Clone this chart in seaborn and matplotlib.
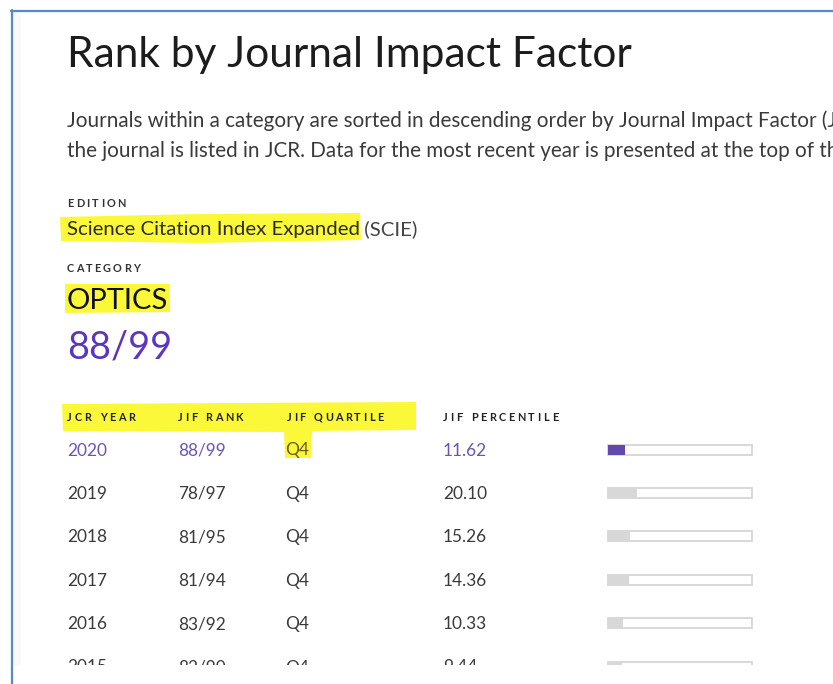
import matplotlib
matplotlib.use("Agg")
import matplotlib.pyplot as plt
from matplotlib.patches import Rectangle, Polygon
from matplotlib.lines import Line2D
import seaborn as sns
import pandas as pd

# ---------------- data ----------------
years = ["2020", "2019", "2018", "2017", "2016", "2015"]
ranks = ["88/99", "78/97", "81/95", "81/94", "83/92", "82/90"]
quartiles = ["Q4", "Q4", "Q4", "Q4", "Q4", "Q4"]
percentiles = [11.62, 20.10, 15.26, 14.36, 10.33, 9.44]
headers = ["JCR YEAR", "JIF RANK", "JIF QUARTILE", "JIF PERCENTILE"]
title = "Rank by Journal Impact Factor"
para = [
    "Journals within a category are sorted in descending order by Journal Impact Factor (J",
    "the journal is listed in JCR. Data for the most recent year is presented at the top of the",
]
edition = "Science Citation Index Expanded"
edition_abbr = " (SCIE)"
category = "OPTICS"
current_rank = "88/99"

sns.set_theme(style="white")
plt.rcParams["font.family"] = ["Lato", "DejaVu Sans"]

W, H = 833, 684
CLIP = 665
fig = plt.figure(figsize=(W / 100, H / 100), dpi=100)
fig.patch.set_facecolor("white")
ax = fig.add_axes([0, (H - CLIP) / H, 1, CLIP / H])
ax.set_xlim(0, W)
ax.set_ylim(CLIP, 0)
ax.axis("off")
renderer = fig.canvas.get_renderer()

PURPLE = "#5a37be"
PURPLE_LIGHT = "#6a55b3"
DARK = "#2b2b2b"
TXT = "#3a3a3a"
YELLOW = "#fbf83a"


def width_of(t):
    return t.get_window_extent(renderer).width


def fit_size(s, width, size=12, **kw):
    probe = ax.text(0, 0, s, fontsize=size, ha="left", va="baseline", **kw)
    w = width_of(probe)
    probe.remove()
    return size * width / w


def put(x, y, s, size=12, fit_to=None, fit_text=None, **kw):
    if fit_to is not None:
        size = fit_size(fit_text or s, fit_to - x, size, **kw)
    t = ax.text(x, y, s, fontsize=size, ha="left", va="baseline", clip_on=True, **kw)
    return t, size


def spaced(x0, x1, y, s, size=8, **kw):
    chars = list(s)
    ws = []
    for c in chars:
        if c == " ":
            ws.append(None)
            continue
        p = ax.text(0, 0, c, fontsize=size, **kw)
        ws.append(width_of(p))
        p.remove()
    real = [w for w in ws if w]
    avg = sum(real) / len(real)
    ws = [w if w is not None else avg * 0.55 for w in ws]
    gap = ((x1 - x0) - sum(ws)) / (len(ws) - 1)
    x = x0
    for c, w in zip(chars, ws):
        if c != " ":
            ax.text(x, y, c, fontsize=size, ha="left", va="baseline", clip_on=True, **kw)
        x += w + gap


# ---------------- page frame ----------------
ax.add_patch(Rectangle((13, 12), 8, CLIP, color="#f8f8f8", lw=0, zorder=0))
fig.add_artist(Line2D([11.5 / W, 11.5 / W], [0, 1 - 10 / H], color="#5b87cf", lw=1.6))
fig.add_artist(Line2D([11 / W, 1], [1 - 10.5 / H, 1 - 10.5 / H], color="#5b87cf", lw=1.6))

# ---------------- highlights ----------------
ax.add_patch(Polygon([(60, 217), (200, 214), (360, 213), (361, 240), (200, 243), (61, 241)],
                     closed=True, color=YELLOW, lw=0, zorder=1))
ax.add_patch(Polygon([(65, 284), (170, 284), (170, 312), (65, 313)],
                     closed=True, color=YELLOW, lw=0, zorder=1))
ax.add_patch(Polygon([(62, 404), (416, 402), (416, 430), (312, 431), (311, 458),
                      (285, 458), (284, 432), (63, 431)],
                     closed=True, color=YELLOW, lw=0, zorder=1))

# ---------------- header texts ----------------
put(67, 67, title, size=28, fit_to=633, color="#1c1c1c")
_, psize = put(67, 127, para[0], size=11, fit_to=825,
               fit_text="Journals within a category are sorted in descending order by Journal Impact Factor (",
               color=TXT)
put(67, 157, para[1], size=psize, color=TXT)

spaced(67, 126, 207, "EDITION", size=7.8, weight="bold", color="#333333")
_, esize = put(67, 235, edition, size=13, fit_to=358, color=DARK, zorder=2)
put(359, 235, edition_abbr, size=esize, color="#444444", zorder=2)
spaced(67, 140, 272, "CATEGORY", size=7.8, weight="bold", color="#333333")
put(67, 309, category, size=22, fit_to=168, color="#111111", zorder=2)
put(67, 359, current_rank, size=32, fit_to=172, color=PURPLE, zorder=2)

# ---------------- table ----------------
col_x = [67, 178, 285, 443]
hdr_x = [(67, 135), (178, 243), (287, 383), (443, 558)]
for (a, b), h in zip(hdr_x, headers):
    spaced(a, b, 421, h, size=7.8, weight="bold", color="#222222", zorder=2)

row_y0, row_dy = 449.5, 43.4
rsize = fit_size("2020", 40, 12)
for i in range(len(years)):
    yb = row_y0 + i * row_dy + 6
    col = PURPLE_LIGHT if i == 0 else TXT
    put(col_x[0], yb, years[i], size=rsize, color=col, zorder=2)
    put(col_x[1], yb, ranks[i], size=rsize, color=col, zorder=2)
    put(col_x[2], yb, quartiles[i], size=rsize, color=("#6b5a1e" if i == 0 else col), zorder=2)
    put(col_x[3], yb, f"{percentiles[i]:.2f}", size=rsize, color=col, zorder=2)

# ---------------- percentile bars (seaborn) ----------------
bx0, bx1 = 607.0, 753.5
top = row_y0 - row_dy / 2
nvis = (CLIP - top) / row_dy
bax = fig.add_axes([bx0 / W, (H - CLIP) / H, (bx1 - bx0) / W, (CLIP - top) / H])
df = pd.DataFrame({"year": years, "pct": percentiles, "full": [100.0] * len(years)})
bw = 10 / row_dy
sns.barplot(data=df, x="full", y="year", order=years, color="white", edgecolor="#d5d5d5",
            linewidth=1.3, width=bw, ax=bax, zorder=1)
fill_cols = [PURPLE] + ["#d8d8d8"] * (len(years) - 1)
sns.barplot(data=df, x="pct", y="year", order=years, hue="year", hue_order=years,
            palette=fill_cols, width=bw, linewidth=0, ax=bax, legend=False, zorder=2)
bax.set_xlim(-0.7, 100.7)
bax.set_ylim(nvis - 0.5, -0.5)
bax.axis("off")

fig.savefig("out.png", dpi=100, facecolor="white")
